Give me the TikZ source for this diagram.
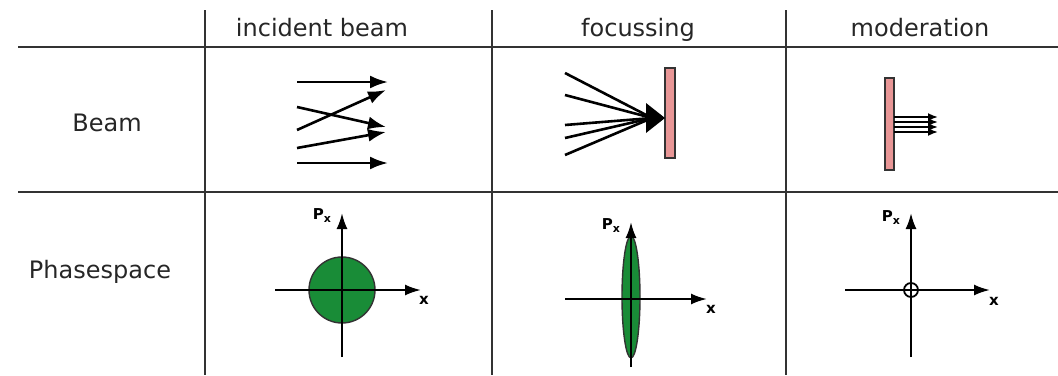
\documentclass[tikz,border=0pt]{standalone}
\usepackage{fontspec}
\setmainfont{DejaVu Sans}
\usetikzlibrary{arrows.meta}
\definecolor{plate}{RGB}{232,150,150}
\definecolor{blob}{RGB}{25,140,55}
\tikzset{
  grid/.style={line width=1.4pt, draw=black!80},
  head/.style={font=\fontsize{24}{28}\selectfont, text=black!85, anchor=base},
  ray/.style={line width=2.6pt, -{Latex[length=18pt,width=13pt]}},
  axis/.style={line width=2.2pt, -{Latex[length=16pt,width=11pt]}},
  plate/.style={fill=plate, draw=black!80, line width=1.4pt},
  lab/.style={font=\fontsize{15}{16}\bfseries\selectfont, inner sep=0pt, anchor=base}
}
\newcommand{\pxlab}{P\raisebox{-3pt}{\fontsize{11}{11}\selectfont x}}
\begin{document}
\begin{tikzpicture}[x=1pt,y=-1pt]
\useasboundingbox (0,0) rectangle (1058,375);
% grid
\draw[grid] (18,47) -- (1058,47);
\draw[grid] (18,192) -- (1058,192);
\draw[grid] (205,10) -- (205,375);
\draw[grid] (492,10) -- (492,375);
\draw[grid] (786,10) -- (786,375);
% headers
\node[head] (h1) at (322,36) {incident beam};
\node[head] (h2) at (638,36) {focussing};
\node[head] (h3) at (920,36) {moderation};
\node[head] (r1) at (107,131) {Beam};
\node[head] (r2) at (100,278) {Phasespace};
% incident beam
\draw[ray] (297,82) -- (388,82);
\draw[ray] (297,130) -- (386,90);
\draw[ray] (297,107) -- (386,127);
\draw[ray] (297,148) -- (386,132);
\draw[ray] (297,163) -- (388,163);
% focussing
\draw[plate] (665,68) rectangle (675,158);
\foreach \y in {73,95,125,138,155}
  \draw[line width=2.6pt] (565,\y) -- (652,118);
\fill (665,118) -- (646,103) -- (646,133) -- cycle;
% moderation
\draw[plate] (885,78) rectangle (894,170);
\foreach \y in {117,122,127,132}
  \draw[line width=1.8pt, -{Latex[length=10pt,width=8pt]}] (894,\y) -- (938,\y);
% phasespace 1
\fill[blob, draw=black!80, line width=1.4pt] (342,290) circle (33);
\draw[axis] (342,357) -- (342,213);
\draw[axis] (275,290) -- (421,290);
\node[lab] (p1) at (322,219) {\pxlab};
\node[lab] (x1) at (424,304) {x};
% phasespace 2
\fill[blob, draw=black!80, line width=1.4pt] (631,297) ellipse (9 and 61);
\draw[axis] (631,367) -- (631,222);
\draw[axis] (565,299) -- (707,299);
\node[lab] (p2) at (611,229) {\pxlab};
\node[lab] (x2) at (711,313) {x};
% phasespace 3
\draw[axis] (911,357) -- (911,213);
\draw[axis] (845,290) -- (990,290);
\draw[line width=1.8pt] (911,290) circle (7);
\node[lab] (p3) at (891,221) {\pxlab};
\node[lab] (x3) at (994,305) {x};
\end{tikzpicture}
\end{document}
